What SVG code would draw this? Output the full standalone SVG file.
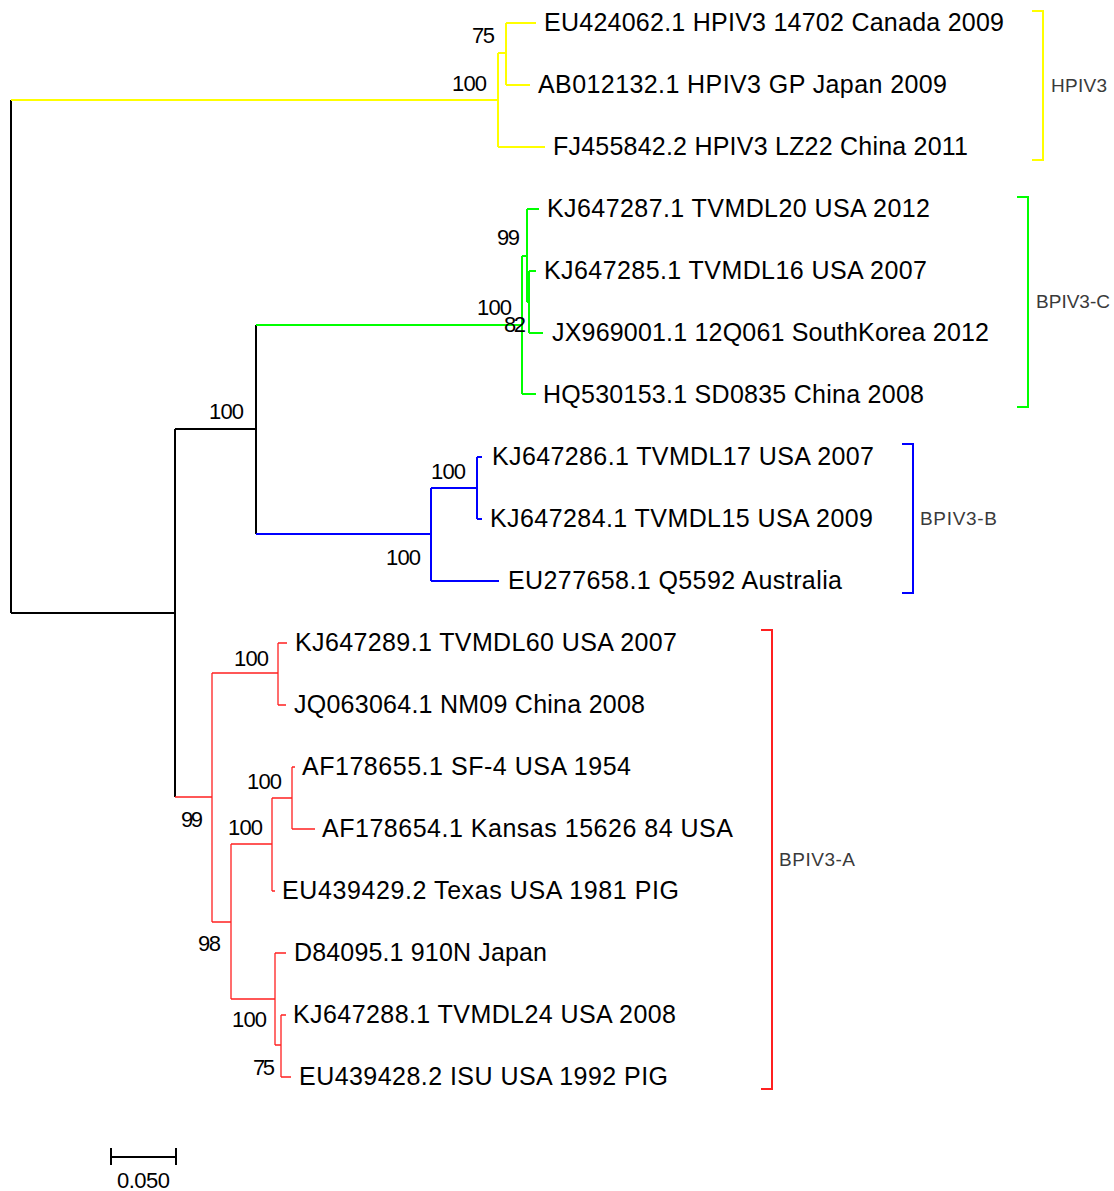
<svg xmlns="http://www.w3.org/2000/svg" width="1114" height="1191" viewBox="0 0 1114 1191">
<style>
.tip{font-family:"Liberation Sans",Arial,sans-serif;font-size:25px;fill:#000}
.bs{font-family:"Liberation Sans",Arial,sans-serif;font-size:22px;fill:#000}
.clade{font-family:"Liberation Sans",Arial,sans-serif;font-size:19px;fill:#3a3a3a}
.k{stroke:#000;stroke-width:2;fill:none}
.y{stroke:#ffff00;stroke-width:2;fill:none}
.g{stroke:#00ff00;stroke-width:2;fill:none}
.b{stroke:#0000ff;stroke-width:2;fill:none}
.r{stroke:#ff2020;stroke-width:1.3;fill:none}
</style>
<rect width="1114" height="1191" fill="#fff"/>
<g id="connectors">
<path class="k" d="M11,100V613M11,613H175M175,429V797M175,429H256M256,325V534"/>
<path class="y" d="M11,100H498M498,53V147M498,147H545M498,53H506M506,23V85M506,23H536M506,85H530"/>
<path class="g" d="M256,325H522M522,256V394M522,394H536M522,256H527M527,209V302M527,209H539M527,302H529M529,271V333M529,271H536M529,333H543"/>
<path class="b" d="M256,534H431M431,488V581M431,581H499M431,488H477M477,457V519M477,457H482M477,519H482"/>
<path class="r" d="M175,797H212M212,673V922M212,673H278M278,643V705M278,643H287M278,705H286M212,922H231M231,844V999M231,844H272M272,798V891M272,798H292M292,767V829M292,767H295M292,829H315M272,891H275M231,999H275M275,953V1045M275,953H286M275,1045H281M281,1015V1077M281,1015H286M281,1077H291"/>
</g>
<g id="bootstrap">
<text class="bs" x="472" y="43" textLength="23">75</text>
<text class="bs" x="452" y="91" textLength="35">100</text>
<text class="bs" x="497" y="245" textLength="23">99</text>
<text class="bs" x="477" y="315" textLength="35">100</text>
<text class="bs" x="504" y="332" textLength="22">82</text>
<text class="bs" x="209" y="419" textLength="35">100</text>
<text class="bs" x="431" y="479" textLength="35">100</text>
<text class="bs" x="386" y="565" textLength="35">100</text>
<text class="bs" x="234" y="666" textLength="35">100</text>
<text class="bs" x="247" y="789" textLength="35">100</text>
<text class="bs" x="181" y="827" textLength="22">99</text>
<text class="bs" x="228" y="835" textLength="35">100</text>
<text class="bs" x="198" y="951" textLength="23">98</text>
<text class="bs" x="232" y="1027" textLength="35">100</text>
<text class="bs" x="253" y="1075" textLength="22">75</text>
</g>
<g id="tip-EU424062"><text class="tip" x="544" y="31" textLength="460">EU424062.1 HPIV3 14702 Canada 2009</text></g>
<g id="tip-AB012132"><text class="tip" x="538" y="93" textLength="409">AB012132.1 HPIV3 GP Japan 2009</text></g>
<g id="tip-FJ455842"><text class="tip" x="553" y="155" textLength="415">FJ455842.2 HPIV3 LZ22 China 2011</text></g>
<g id="tip-KJ647287"><text class="tip" x="547" y="217" textLength="383">KJ647287.1 TVMDL20 USA 2012</text></g>
<g id="tip-KJ647285"><text class="tip" x="544" y="279" textLength="383">KJ647285.1 TVMDL16 USA 2007</text></g>
<g id="tip-JX969001"><text class="tip" x="552" y="341" textLength="437">JX969001.1 12Q061 SouthKorea 2012</text></g>
<g id="tip-HQ530153"><text class="tip" x="543" y="403" textLength="381">HQ530153.1 SD0835 China 2008</text></g>
<g id="tip-KJ647286"><text class="tip" x="492" y="465" textLength="382">KJ647286.1 TVMDL17 USA 2007</text></g>
<g id="tip-KJ647284"><text class="tip" x="490" y="527" textLength="383">KJ647284.1 TVMDL15 USA 2009</text></g>
<g id="tip-EU277658"><text class="tip" x="508" y="589" textLength="334">EU277658.1 Q5592 Australia</text></g>
<g id="tip-KJ647289"><text class="tip" x="295" y="651" textLength="382">KJ647289.1 TVMDL60 USA 2007</text></g>
<g id="tip-JQ063064"><text class="tip" x="294" y="713" textLength="351">JQ063064.1 NM09 China 2008</text></g>
<g id="tip-AF178655"><text class="tip" x="302" y="775" textLength="329">AF178655.1 SF-4 USA 1954</text></g>
<g id="tip-AF178654"><text class="tip" x="322" y="837" textLength="411">AF178654.1 Kansas 15626 84 USA</text></g>
<g id="tip-EU439429"><text class="tip" x="282" y="899" textLength="397">EU439429.2 Texas USA 1981 PIG</text></g>
<g id="tip-D84095"><text class="tip" x="294" y="961" textLength="253">D84095.1 910N Japan</text></g>
<g id="tip-KJ647288"><text class="tip" x="293" y="1023" textLength="383">KJ647288.1 TVMDL24 USA 2008</text></g>
<g id="tip-EU439428"><text class="tip" x="299" y="1085" textLength="369">EU439428.2 ISU USA 1992 PIG</text></g>
<g id="clade-HPIV3"><path class="y" d="M1032,11H1043V160H1032"/><text class="clade" x="1051" y="92" textLength="56">HPIV3</text></g>
<g id="clade-BPIV3-C"><path class="g" d="M1017,197H1028V407H1017"/><text class="clade" x="1036" y="308" textLength="74">BPIV3-C</text></g>
<g id="clade-BPIV3-B"><path class="b" d="M902,444H913V593H902"/><text class="clade" x="920" y="525" textLength="77">BPIV3-B</text></g>
<g id="clade-BPIV3-A"><path class="r" style="stroke-width:2" d="M761,630H772V1089H761"/><text class="clade" x="779" y="866" textLength="76">BPIV3-A</text></g>
<g id="scale-bar"><path class="k" d="M111,1157H176M111,1148V1165M176,1148V1165"/><text class="bs" x="117" y="1188" textLength="53">0.050</text></g>
</svg>
